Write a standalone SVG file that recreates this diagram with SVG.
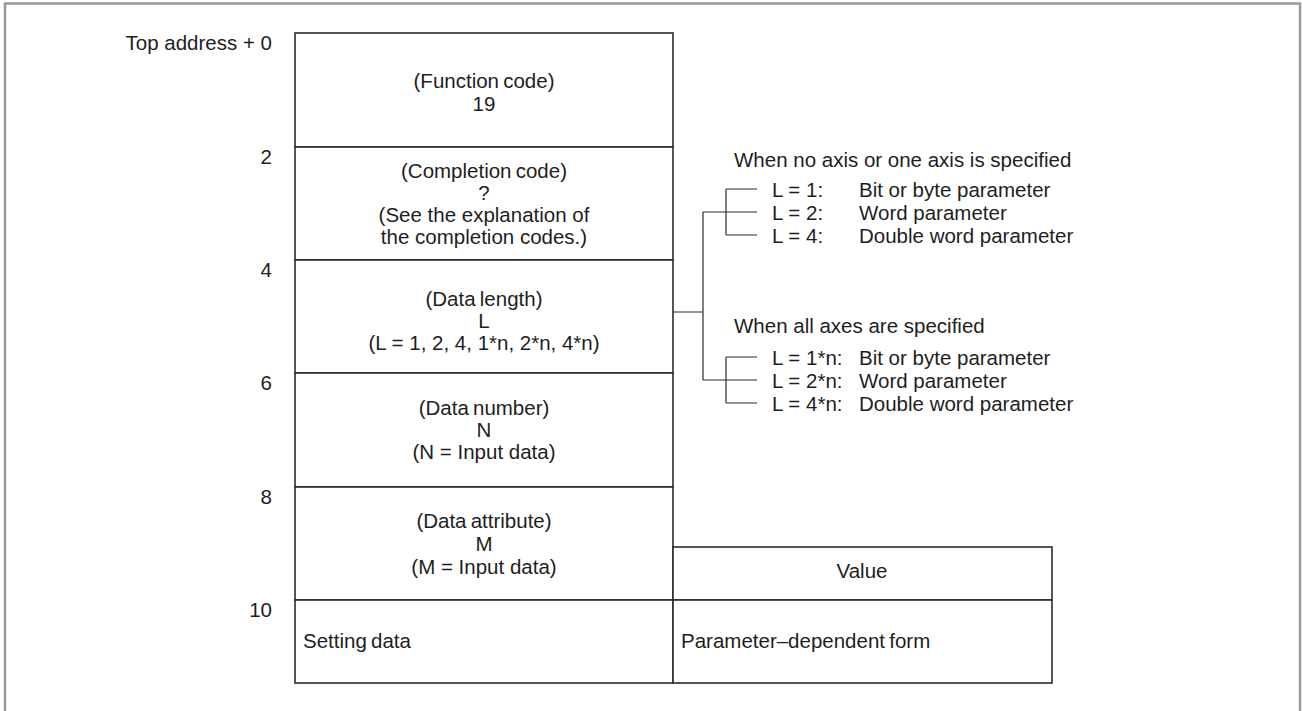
<svg xmlns="http://www.w3.org/2000/svg" width="1302" height="711" viewBox="0 0 1302 711">
  <style>
    text { font-family: "Liberation Sans", Arial, sans-serif; font-size: 20.5px; fill: #1e1e1e; }
    .c { text-anchor: middle; }
    .r { text-anchor: end; }
    .tight { word-spacing: -1.5px; }
    .cell { fill: #ffffff; stroke: #2b2b2b; stroke-width: 1.6; }
    .wire { fill: none; stroke: #2b2b2b; stroke-width: 1.2; }
    .frame { fill: none; stroke: #9a9a9a; stroke-width: 2.5; }
  </style>

  <rect width="1302" height="711" fill="#ffffff"/>
  <!-- page frame -->
  <rect class="frame" x="5" y="3.5" width="1295" height="720"/>

  <!-- address offsets -->
  <g id="offsets">
    <text class="r" x="272" y="50">Top address + 0</text>
    <text class="r" x="272" y="164">2</text>
    <text class="r" x="272" y="277">4</text>
    <text class="r" x="272" y="390">6</text>
    <text class="r" x="272" y="504">8</text>
    <text class="r" x="272" y="617">10</text>
  </g>

  <g id="function-code">
    <rect class="cell" x="295" y="33" width="378" height="114"/>
    <text class="c tight" x="484" y="88">(Function code)</text>
    <text class="c" x="484" y="111">19</text>
  </g>

  <g id="completion-code">
    <rect class="cell" x="295" y="147" width="378" height="113"/>
    <text class="c tight" x="484" y="178">(Completion code)</text>
    <text class="c" x="484" y="200">?</text>
    <text class="c" x="484" y="222">(See the explanation of</text>
    <text class="c" x="484" y="244">the completion codes.)</text>
  </g>

  <g id="data-length">
    <rect class="cell" x="295" y="260" width="378" height="113"/>
    <text class="c tight" x="484" y="306">(Data length)</text>
    <text class="c" x="484" y="328">L</text>
    <text class="c" x="484" y="350">(L = 1, 2, 4, 1*n, 2*n, 4*n)</text>
  </g>

  <g id="data-number">
    <rect class="cell" x="295" y="373" width="378" height="114"/>
    <text class="c tight" x="484" y="415">(Data number)</text>
    <text class="c" x="484" y="437">N</text>
    <text class="c" x="484" y="459">(N = Input data)</text>
  </g>

  <g id="data-attribute">
    <rect class="cell" x="295" y="487" width="378" height="113"/>
    <text class="c tight" x="484" y="528">(Data attribute)</text>
    <text class="c" x="484" y="551">M</text>
    <text class="c" x="484" y="574">(M = Input data)</text>
  </g>

  <g id="setting-data">
    <rect class="cell" x="295" y="600" width="378" height="83"/>
    <text class="tight" x="303" y="648">Setting data</text>
  </g>

  <g id="value-header">
    <rect class="cell" x="673" y="547" width="379" height="53"/>
    <text class="c" x="862" y="578">Value</text>
  </g>

  <g id="value-form">
    <rect class="cell" x="673" y="600" width="379" height="83"/>
    <text class="tight" x="681" y="648">Parameter–dependent form</text>
  </g>

  <!-- length cases -->
  <g id="single-axis">
    <text x="734" y="167">When no axis or one axis is specified</text>
    <text x="772" y="197">L = 1:</text>
    <text x="859" y="197">Bit or byte parameter</text>
    <text x="772" y="220">L = 2:</text>
    <text x="859" y="220">Word parameter</text>
    <text x="772" y="243">L = 4:</text>
    <text x="859" y="243">Double word parameter</text>
  </g>

  <g id="all-axes">
    <text x="734" y="333">When all axes are specified</text>
    <text x="772" y="365">L = 1*n:</text>
    <text x="859" y="365">Bit or byte parameter</text>
    <text x="772" y="388">L = 2*n:</text>
    <text x="859" y="388">Word parameter</text>
    <text x="772" y="411">L = 4*n:</text>
    <text x="859" y="411">Double word parameter</text>
  </g>

  <!-- brackets from the length field to the cases -->
  <g id="connectors">
    <path class="wire" d="M673 312 H703 M703 212 V380 M703 212 H726 M703 380 H726"/>
    <path class="wire" d="M726 189 V235 M726 189 H757 M726 212 H757 M726 235 H757"/>
    <path class="wire" d="M726 357 V403 M726 357 H757 M726 380 H757 M726 403 H757"/>
  </g>
</svg>
